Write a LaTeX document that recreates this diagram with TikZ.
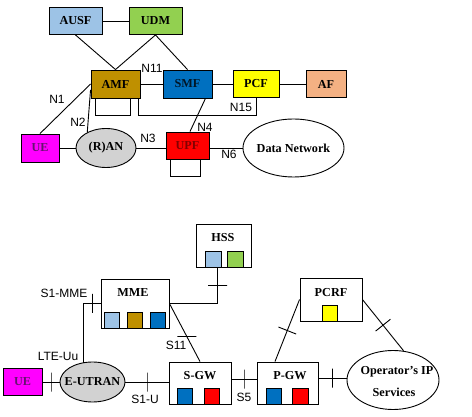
\documentclass[tikz,border=0pt]{standalone}
\usepackage{fontspec}
\setmainfont{Liberation Serif}
\setsansfont{Liberation Sans}
\usetikzlibrary{calc,shapes.geometric}
\definecolor{AusfBlue}{RGB}{157,195,230}
\definecolor{UdmGreen}{RGB}{146,208,80}
\definecolor{AmfGold}{RGB}{191,144,0}
\definecolor{SmfBlue}{RGB}{0,112,192}
\definecolor{PcfYellow}{RGB}{255,255,0}
\definecolor{AfPeach}{RGB}{244,177,131}
\definecolor{UeMagenta}{RGB}{255,0,255}
\definecolor{UpfRed}{RGB}{255,0,0}
\definecolor{RanGray}{RGB}{210,210,210}
\definecolor{UeText}{RGB}{100,20,110}
\definecolor{UpfText}{RGB}{130,0,0}
\colorlet{SmfText}{black!80!SmfBlue}
\tikzset{
  conn/.style={line width=0.9pt},
  nf/.style={draw,line width=0.9pt,inner sep=0pt,font=\bfseries\fontsize{12.2}{14}\selectfont},
  oval/.style={nf,ellipse},
  nflbl/.style={inner sep=0pt,font=\bfseries\fontsize{12.2}{14}\selectfont},
  sq/.style={draw,line width=0.7pt,minimum width=15.5pt,minimum height=16pt,inner sep=0pt,anchor=south},
  ifname/.style={inner sep=0pt,font=\sffamily\fontsize{12}{14}\selectfont},
  tick/.style={draw,line width=0.9pt,minimum width=0pt,minimum height=19pt,inner sep=0pt,sloped},
  tickh/.style={draw,line width=0.9pt,minimum width=19pt,minimum height=0pt,inner sep=0pt}
}
\begin{document}
\begin{tikzpicture}[x=1pt,y=-1pt]
  \useasboundingbox (0,0) rectangle (472,417);
  % 5G
  \node[nf,fill=AusfBlue,minimum width=53pt,minimum height=27pt] (ausf) at (75.5,21) {AUSF};
  \node[nf,fill=UdmGreen,minimum width=53pt,minimum height=27pt] (udm) at (155.5,21) {UDM};
  \node[nf,fill=AmfGold,minimum width=49pt,minimum height=28pt] (amf) at (115.5,84) {AMF};
  \node[nf,fill=SmfBlue,text=SmfText,minimum width=49pt,minimum height=28pt] (smf) at (187.5,84) {SMF};
  \node[nf,fill=PcfYellow,minimum width=46pt,minimum height=27pt] (pcf) at (256,84) {PCF};
  \node[nf,fill=AfPeach,minimum width=40pt,minimum height=27pt] (af) at (326,84) {AF};
  \node[nf,fill=UeMagenta,text=UeText,minimum width=38pt,minimum height=28pt] (ue) at (40,148) {UE};
  \node[oval,fill=RanGray,minimum width=60pt,minimum height=39pt] (ran) at (106,148) {(R)AN};
  \node[nf,fill=UpfRed,text=UpfText,minimum width=43pt,minimum height=27pt] (upf) at (187.5,145.5) {UPF};
  \node[oval,fill=white,minimum width=101pt,minimum height=58pt] (dn) at (293.5,148) {};
  \node[nflbl] (dnlbl) at (dn) {Data Network};

  \draw[conn] (ausf) -- (udm);
  \draw[conn] (ausf.south) -- (amf.north);
  \draw[conn] (udm.south) -- (amf.north);
  \draw[conn] (udm.south) -- (smf.north);
  \draw[conn] (amf) -- (smf);
  \draw[conn] (smf) -- (pcf);
  \draw[conn] (pcf) -- (af);
  \draw[conn] (ue.north) -- (amf.west);
  \draw[conn] ($(amf.south west)!0.3!(amf.north west)$) -- (ran.140);
  \draw[conn] ($(amf.south west)+(5,0)$) -- ++(0,17) -| ($(amf.south east)+(-10,0)$);
  \draw[conn] ($(amf.south east)+(-2,0)$) -- ++(0,17) -| (pcf.south);
  \draw[conn] ($(smf.south east)+(-7,0)$) -- ($(upf.north)+(2.5,0)$);
  \draw[conn] (ue) -- (ran);
  \draw[conn] (ran.east) -- (ran.east -| upf.west);
  \draw[conn] (dn.west -| upf.east) -- (dn.west);
  \draw[conn] ($(upf.south west)+(5,0)$) -- ++(0,17) -| ($(upf.south east)+(-9,0)$);

  \node[ifname] (n1) at (57,99) {N1};
  \node[ifname] (n2) at (78,122) {N2};
  \node[ifname] (n3) at (148,138) {N3};
  \node[ifname] (n4) at (205,127) {N4};
  \node[ifname] (n6) at (229,154) {N6};
  \node[ifname] (n11) at (152,68) {N11};
  \node[ifname] (n15) at (241,107) {N15};

  % EPC
  \node[nf,fill=white,minimum width=55pt,minimum height=43pt] (hss) at (223.5,245.5) {};
  \node[nflbl] (hsslbl) at (223,238) {HSS};
  \node[sq,fill=AusfBlue] (hssa) at ($(hss.south)+(-10,0)$) {};
  \node[sq,fill=UdmGreen] (hssb) at ($(hss.south)+(12,0)$) {};
  \node[nf,fill=white,minimum width=68pt,minimum height=49pt] (mme) at (135,303.5) {};
  \node[nflbl] (mmelbl) at (133,293) {MME};
  \node[sq,fill=AusfBlue] (mmea) at ($(mme.south)+(-23,0)$) {};
  \node[sq,fill=AmfGold] (mmeb) at ($(mme.south)+(0,0)$) {};
  \node[sq,fill=SmfBlue] (mmec) at ($(mme.south)+(23,0)$) {};
  \node[nf,fill=white,minimum width=62pt,minimum height=43pt] (pcrf) at (331,299.5) {};
  \node[nflbl] (pcrflbl) at (331,293) {PCRF};
  \node[sq,fill=PcfYellow] (pcrfa) at ($(pcrf.south)+(-1,0)$) {};
  \node[nf,fill=white,minimum width=62pt,minimum height=42pt] (sgw) at (200,383) {};
  \node[nflbl] (sgwlbl) at (200,375.5) {S-GW};
  \node[sq,fill=SmfBlue] (sgwa) at ($(sgw.south)+(-15,0)$) {};
  \node[sq,fill=UpfRed] (sgwb) at ($(sgw.south)+(12,0)$) {};
  \node[nf,fill=white,minimum width=61pt,minimum height=42pt] (pgw) at (287.5,383) {};
  \node[nflbl] (pgwlbl) at (290,375.5) {P-GW};
  \node[sq,fill=SmfBlue] (pgwa) at ($(pgw.south)+(-13.5,0)$) {};
  \node[sq,fill=UpfRed] (pgwb) at ($(pgw.south)+(13,0)$) {};
  \node[nf,fill=UeMagenta,text=UeText,minimum width=39pt,minimum height=27pt] (ue2) at (22.5,382) {UE};
  \node[oval,fill=RanGray,minimum width=65pt,minimum height=40pt] (eutran) at (92.5,382) {};
  \node[nflbl] (eutranlbl) at (eutran) {E-UTRAN};
  \node[oval,fill=white,minimum width=92pt,minimum height=59pt] (ops) at (393,380) {};
  \node[nflbl] (opslbla) at (397,372) {Operator’s IP};
  \node[nflbl] (opslblb) at (394,392) {Services};

  \draw[conn] ($(hss.south)+(-6,0)$) |- (mme.east) node[tick,pos=0.25]{};
  \draw[conn] (mme.west) -| ($(eutran.north)+(-9.5,1)$) node[tick,pos=0.22]{};
  \draw[conn] (mme.east) -- (sgw.north) node[tickh,pos=0.57]{};
  \draw[conn] (ue2) -- (eutran) node[tick,midway]{};
  \draw[conn] (eutran.east) -- (eutran.east -| sgw.west) node[tick,midway]{};
  \draw[conn] ($(sgw.east)+(0,-4)$) -- ($(pgw.west)+(0,-4)$) node[tick,midway]{};
  \draw[conn] ($(pgw.east)+(0,-5)$) -- ($(ops.west)+(0,-2)$) node[tick,midway]{};
  \draw[conn] (pcrf.west) -- ($(pgw.north)+(-12.5,0)$) node[tick,midway]{};
  \draw[conn] (pcrf.east) -- (ops.70) node[tick,midway]{};

  \node[ifname] (s1mme) at (64,293) {S1-MME};
  \node[ifname] (lteuu) at (58,356) {LTE-Uu};
  \node[ifname] (s1u) at (145,399) {S1-U};
  \node[ifname] (s11) at (176,345) {S11};
  \node[ifname] (s5) at (244,397) {S5};
\end{tikzpicture}
\end{document}
